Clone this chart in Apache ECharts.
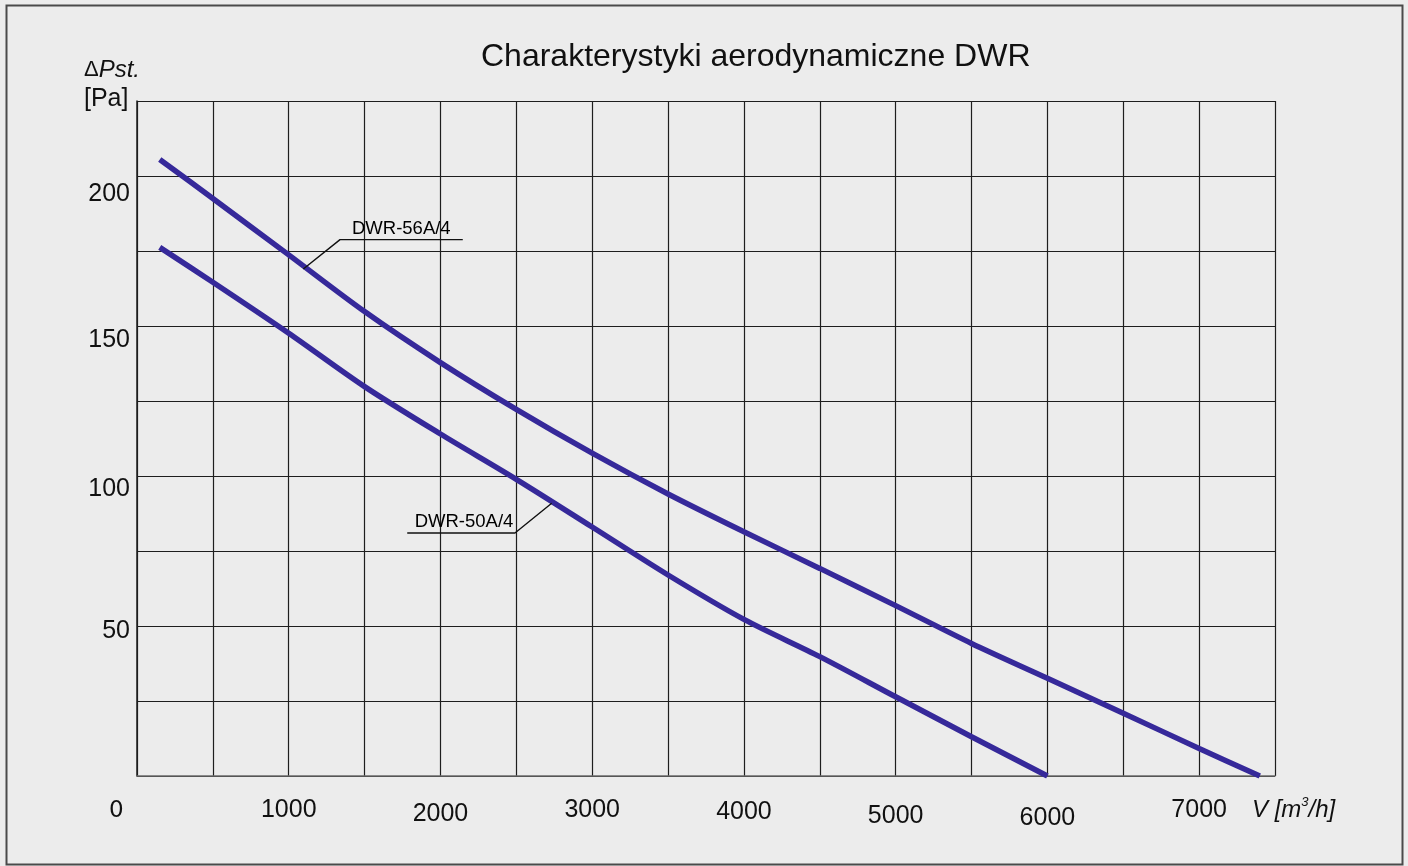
<!DOCTYPE html>
<html>
<head>
<meta charset="utf-8">
<script src="https://cdn.jsdelivr.net/npm/echarts@6/dist/echarts.min.js"></script>
<style>
  html, body { margin: 0; padding: 0; background: #ececec; }
  #main { width: 1408px; height: 866px; }
</style>
</head>
<body>
<div id="main"></div>
<script>
// krzywe wentylatorow
var flow56 = [150, 500, 1000, 1500, 2000, 2500, 3000, 3500, 4000, 4500, 5000, 5500, 6000, 6500, 7000, 7400];
var dp56   = [205.5, 192.5, 173.7, 154.8, 137.8, 122.2, 107.6, 94, 81.4, 69.2, 56.8, 44.2, 32.6, 20.9, 9.2, 0];
var flow50 = [150, 500, 1000, 1500, 2000, 2500, 3000, 3500, 4000, 4500, 5000, 5500, 6000];
var dp50   = [176.2, 164.6, 147.6, 129.8, 114, 98.9, 83, 67, 52.2, 39.8, 26.4, 13.1, 0];

// opisy krzywych (odnosniki)
var names = ['DWR-56A/4', 'DWR-50A/4'];
var lead56X = [1096, 1338, 2147];
var lead56Y = [169, 178.8, 178.8];
var lead50X = [2733, 2491, 1781];
var lead50Y = [90.9, 81, 81];
var labelX = [1742, 2155];
var labelY = [178.8, 81];

var xTicks = [1000, 2000, 3000, 4000, 5000, 6000, 7000];
var yTicks = [50, 100, 150, 200];

function zipXY(xs, ys) {
    var out = [];
    for (var i = 0; i < xs.length; i++) {
        out.push([xs[i], ys[i]]);
    }
    return out;
}

var curveColor = '#36299a';
var gridColor = '#1e1e1e';

var option = {
    backgroundColor: '#ececec',
    animation: false,
    title: {
        text: 'Charakterystyki aerodynamiczne DWR',
        left: 476,
        top: 36,
        textStyle: { fontFamily: 'Liberation Sans', fontSize: 32, fontWeight: 'normal', color: '#111' }
    },
    grid: { left: 137, right: 133, top: 101, bottom: 90 },
    xAxis: {
        type: 'value',
        min: 0,
        max: 7500,
        interval: 500,
        axisLine: { show: true, lineStyle: { color: '#6a6a6a', width: 1.5 } },
        axisTick: { show: false },
        splitLine: { show: true, lineStyle: { color: gridColor, width: 1.2 } },
        axisLabel: {
            margin: 22,
            fontFamily: 'Liberation Sans',
            fontSize: 25,
            color: '#111',
            formatter: function (v) {
                return xTicks.indexOf(v) >= 0 ? '{x' + v + '|' + v + '}' : '';
            },
            rich: {
                x1000: { fontSize: 25, padding: [0, 0, 0, 0] },
                x2000: { fontSize: 25, padding: [4, 0, 0, 0] },
                x3000: { fontSize: 25, padding: [0, 0, 0, 0] },
                x4000: { fontSize: 25, padding: [2, 0, 0, 0] },
                x5000: { fontSize: 25, padding: [6, 0, 0, 0] },
                x6000: { fontSize: 25, padding: [8, 0, 0, 0] },
                x7000: { fontSize: 25, padding: [0, 0, 0, 0] }
            }
        }
    },
    yAxis: {
        type: 'value',
        min: 0,
        max: 225,
        interval: 25,
        axisLine: { show: true, onZero: false, lineStyle: { color: gridColor, width: 1.5 } },
        axisTick: { show: false },
        splitLine: { show: true, lineStyle: { color: gridColor, width: 1.2 } },
        axisLabel: {
            margin: 7,
            fontFamily: 'Liberation Sans',
            fontSize: 25,
            color: '#111',
            formatter: function (v) {
                return yTicks.indexOf(v) >= 0 ? '{l' + v + '|' + v + '}' : '';
            },
            rich: {
                l50: { fontSize: 25, padding: [10, 0, 0, 0] },
                l100: { fontSize: 25, padding: [26, 0, 0, 0] },
                l150: { fontSize: 25, padding: [28, 0, 0, 0] },
                l200: { fontSize: 25, padding: [36, 0, 0, 0] }
            }
        }
    },
    graphic: [
        {
            type: 'rect', z: -10, silent: true,
            shape: { x: 6.5, y: 5.5, width: 1396, height: 859 },
            style: { fill: '#ececec', stroke: '#4a4a4a', lineWidth: 2 }
        },
        {
            type: 'text', left: 84, top: 58,
            style: {
                text: '{d|Δ}{i|Pst.}',
                rich: {
                    d: { fontFamily: 'Liberation Sans', fontSize: 22, fill: '#111' },
                    i: { fontFamily: 'Liberation Sans', fontSize: 24, fontStyle: 'italic', fill: '#111' }
                }
            }
        },
        {
            type: 'text', left: 84, top: 87,
            style: { text: '[Pa]', fontFamily: 'Liberation Sans', fontSize: 25, fill: '#111' }
        },
        {
            type: 'text', left: 109, top: 800,
            style: { text: '0', fontFamily: 'DejaVu Sans', fontSize: 23, fill: '#111' }
        },
        {
            type: 'text', left: 1252, top: 796,
            style: {
                text: '{i|V [m}{s|3}{i|/h]}',
                rich: {
                    i: { fontFamily: 'Liberation Sans', fontSize: 24, fontStyle: 'italic', fill: '#111', lineHeight: 28 },
                    s: { fontFamily: 'Liberation Sans', fontSize: 13, fontStyle: 'italic', fill: '#111', verticalAlign: 'top', lineHeight: 16 }
                }
            }
        }
    ],
    series: [
        {
            name: names[0],
            type: 'line',
            smooth: 0.3,
            symbol: 'none',
            data: zipXY(flow56, dp56),
            lineStyle: { color: curveColor, width: 5.5 },
            z: 5
        },
        {
            name: names[1],
            type: 'line',
            smooth: 0.3,
            symbol: 'none',
            data: zipXY(flow50, dp50),
            lineStyle: { color: curveColor, width: 5.5 },
            z: 5
        },
        {
            type: 'line',
            symbol: 'none',
            data: zipXY(lead56X, lead56Y),
            lineStyle: { color: '#111', width: 1.4 },
            z: 6
        },
        {
            type: 'line',
            symbol: 'none',
            data: zipXY(lead50X, lead50Y),
            lineStyle: { color: '#111', width: 1.4 },
            z: 6
        },
        {
            type: 'scatter',
            symbolSize: 1,
            itemStyle: { opacity: 0 },
            data: [
                [labelX[0], labelY[0], names[0]],
                [labelX[1], labelY[1], names[1]]
            ],
            label: {
                show: true,
                position: 'top',
                distance: 1,
                opacity: 1,
                fontFamily: 'Liberation Sans',
                fontSize: 18.5,
                color: '#000',
                formatter: function (p) { return p.data[2]; }
            },
            z: 7
        }
    ]
};

var myChart = echarts.init(document.getElementById('main'));
myChart.setOption(option);
</script>
</body>
</html>
